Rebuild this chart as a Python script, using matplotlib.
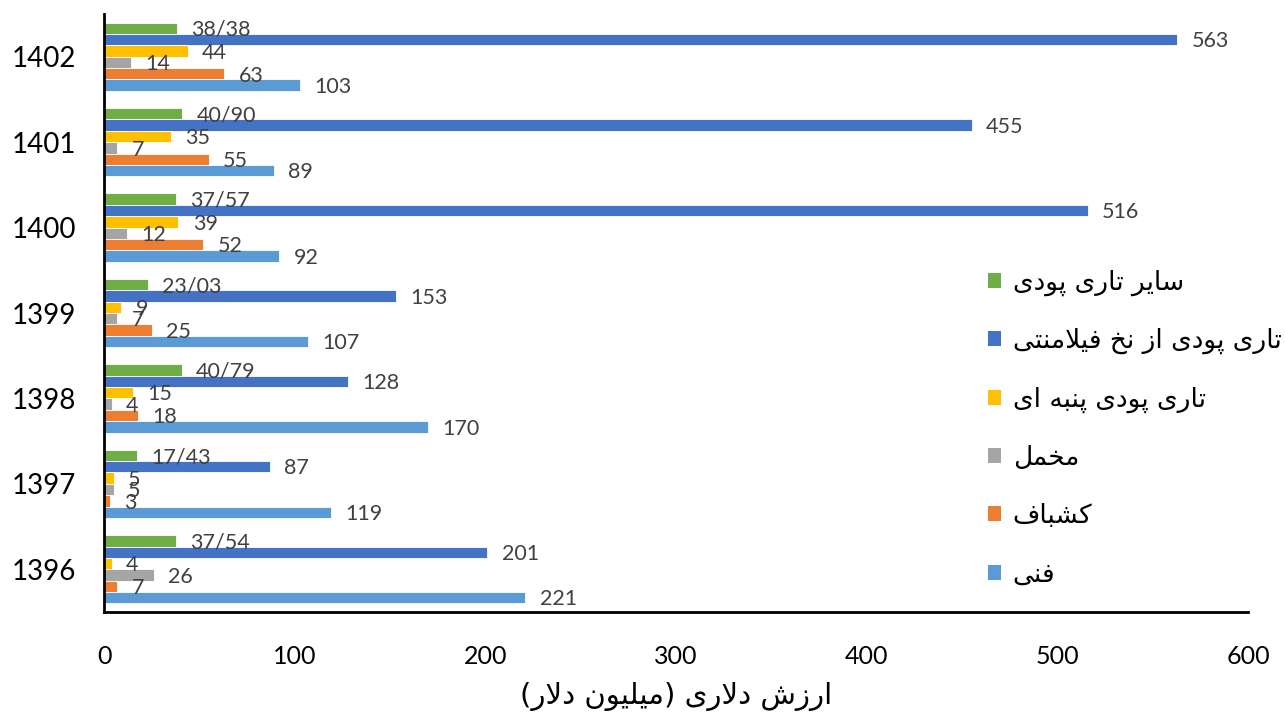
import matplotlib
matplotlib.use("Agg")
import matplotlib.pyplot as plt
from matplotlib.patches import Patch
import numpy as np

# --- data (top category first in the picture is 1402)
years = ["1396", "1397", "1398", "1399", "1400", "1401", "1402"]
fani = [221, 119, 170, 107, 92, 89, 103]
kashbaf = [7, 3, 18, 25, 52, 55, 63]
makhmal = [26, 5, 4, 7, 12, 7, 14]
panbe = [4, 5, 15, 9, 39, 35, 44]
filament = [201, 87, 128, 153, 516, 455, 563]
sayer = [37.54, 17.43, 40.79, 23.03, 37.57, 40.90, 38.38]

names = ["سایر تاری پودی", "تاری پودی از نخ فیلامنتی", "تاری پودی پنبه ای",
         "مخمل", "کشباف", "فنی"]
xlabel = "ارزش دلاری (میلیون دلار)"

# --- minimal arabic/persian shaping (matplotlib has no complex text layout)
FORMS = {  # isolated, final, initial, medial
    "ا": ("\uFE8D", "\uFE8E", None, None),
    "ب": ("\uFE8F", "\uFE90", "\uFE91", "\uFE92"),
    "ت": ("\uFE95", "\uFE96", "\uFE97", "\uFE98"),
    "خ": ("\uFEA5", "\uFEA6", "\uFEA7", "\uFEA8"),
    "د": ("\uFEA9", "\uFEAA", None, None),
    "ر": ("\uFEAD", "\uFEAE", None, None),
    "ز": ("\uFEAF", "\uFEB0", None, None),
    "س": ("\uFEB1", "\uFEB2", "\uFEB3", "\uFEB4"),
    "ش": ("\uFEB5", "\uFEB6", "\uFEB7", "\uFEB8"),
    "ف": ("\uFED1", "\uFED2", "\uFED3", "\uFED4"),
    "ل": ("\uFEDD", "\uFEDE", "\uFEDF", "\uFEE0"),
    "م": ("\uFEE1", "\uFEE2", "\uFEE3", "\uFEE4"),
    "ن": ("\uFEE5", "\uFEE6", "\uFEE7", "\uFEE8"),
    "ه": ("\uFEE9", "\uFEEA", "\uFEEB", "\uFEEC"),
    "و": ("\uFEED", "\uFEEE", None, None),
    "پ": ("\uFB56", "\uFB57", "\uFB58", "\uFB59"),
    "ک": ("\uFB8E", "\uFB8F", "\uFB90", "\uFB91"),
    "ی": ("\uFBFC", "\uFBFD", "\uFBFE", "\uFBFF"),
}


def shape(text):
    chars = list(text)
    out = []
    i = 0
    while i < len(chars):
        c = chars[i]
        if c not in FORMS:
            out.append(c)
            i += 1
            continue
        prev = chars[i - 1] if i > 0 else None
        joins_prev = prev in FORMS and FORMS[prev][2] is not None
        # lam-alef ligature
        if c == "ل" and i + 1 < len(chars) and chars[i + 1] == "ا":
            out.append("\uFEFC" if joins_prev else "\uFEFB")
            i += 2
            continue
        nxt = chars[i + 1] if i + 1 < len(chars) else None
        joins_next = FORMS[c][2] is not None and nxt in FORMS
        iso, fin, ini, med = FORMS[c]
        if joins_prev and joins_next:
            out.append(med)
        elif joins_prev:
            out.append(fin)
        elif joins_next:
            out.append(ini)
        else:
            out.append(iso)
        i += 1
    s = "".join(out)[::-1]
    return s.translate(str.maketrans("()", ")("))


colors = ["#70AD47", "#4472C4", "#FFC000", "#A5A5A5", "#ED7D31", "#5B9BD5"]
series = [sayer, filament, panbe, makhmal, kashbaf, fani]

fig = plt.figure(figsize=(12.85, 7.19), dpi=100)
ax = fig.add_axes([104 / 1285, 1 - 612 / 719, (1248 - 104) / 1285, (612 - 14) / 719])

y = np.arange(len(years))
h = 0.8 / 6
for k, (vals, col) in enumerate(zip(series, colors)):
    pos = y + 0.4 - h * (k + 0.5)
    ax.barh(pos, vals, height=h, color=col, edgecolor="white", linewidth=0.6)
    for p, v in zip(pos, vals):
        lab = f"{v:.2f}".replace(".", "/") if vals is sayer else f"{v:g}"
        ax.text(v + 7.5, p - 0.02, lab, va="center", ha="left",
                fontsize=15.5, color="#404040", family="Lato")

ax.set_xlim(0, 600)
ax.set_ylim(-0.5, 6.5)
ax.set_yticks(y)
ax.set_yticklabels(years, family="Lato", fontsize=20)
ax.set_xticks(np.arange(0, 601, 100))
ax.set_xticklabels([str(v) for v in range(0, 601, 100)], family="Lato", fontsize=18)
ax.tick_params(axis="both", length=0)
ax.tick_params(axis="x", pad=24)
ax.tick_params(axis="y", pad=20)
for s in ("top", "right"):
    ax.spines[s].set_visible(False)
for s in ("left", "bottom"):
    ax.spines[s].set_linewidth(2)
    ax.spines[s].set_color("black")

ax.set_xlabel(shape(xlabel), family="DejaVu Sans", fontsize=21, labelpad=10)

handles = [Patch(facecolor=c) for c in colors]
ax.legend(handles, [shape(n) for n in names], loc="upper left",
          bbox_to_anchor=(964 / 1285, 1 - 246 / 719), bbox_transform=fig.transFigure,
          frameon=False, prop={"family": "DejaVu Sans", "size": 19},
          handlelength=0.5, handleheight=0.5, handletextpad=0.45, labelspacing=1.22)

fig.savefig("out.png", dpi=100)
